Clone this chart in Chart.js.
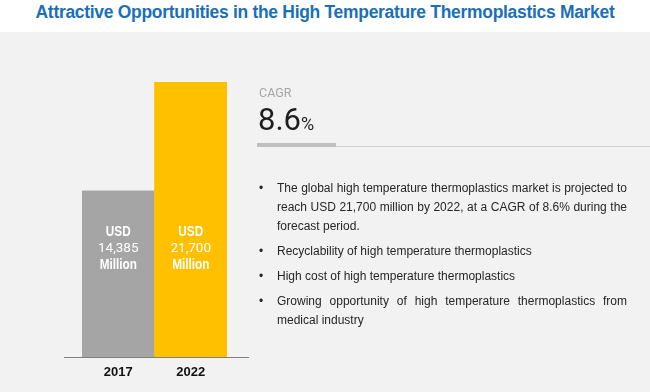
<!DOCTYPE html>
<html>
<head>
<meta charset="utf-8">
<script src="https://cdn.jsdelivr.net/npm/chart.js@4.4.0/dist/chart.umd.min.js"></script>
<style>
  html, body { margin: 0; padding: 0; background: #fff; }
  body { width: 650px; height: 392px; position: relative; overflow: hidden; }
  .title { position: absolute; left: 0; top: 0; width: 650px; text-align: center;
           font: bold 18px "Liberation Sans", Arial, sans-serif; line-height: 24px; color: #1a6fba;
           letter-spacing: -0.3px; transform: scaleX(0.97); transform-origin: 50% 50%; }
  .panel { position: absolute; left: 0; top: 32px; width: 650px; height: 360px; background: #f2f2f2; }
  #chartBox { position: absolute; left: 0; top: 32px; width: 260px; height: 360px; }
  .cagr-label { position: absolute; left: 259px; top: 87px; font: 12.5px Roboto, sans-serif;
                line-height: 1; color: #a6a6a6; }
  .cagr-value { position: absolute; left: 258px; top: 104px; font: 31px Roboto, sans-serif;
                line-height: 1; color: #1e1e1e; }
  .cagr-value span { font-size: 18px; }
  .rule-thick { position: absolute; left: 257px; top: 143px; width: 79px; height: 4px; background: #bfbfbf; }
  .rule-thin { position: absolute; left: 336px; top: 146px; width: 314px; height: 1px; background: #d0d0d0; }
  .points { position: absolute; left: 277px; top: 179px; width: 350px;
            font: 12px "Liberation Sans", Arial, sans-serif; line-height: 19px;
            text-align: justify; color: #262626; }
  .pt { position: relative; margin-bottom: 6px; }
  .pt::before { content: "\2022"; position: absolute; left: -18px; top: 0; }
</style>
</head>
<body>
<div class="title">Attractive Opportunities in the High Temperature Thermoplastics Market</div>
<div class="panel"></div>
<div id="chartBox"><canvas id="marketChart" width="260" height="360"></canvas></div>
<div class="cagr-label">CAGR</div>
<div class="cagr-value" id="cagrValue"></div>
<div class="rule-thick"></div>
<div class="rule-thin"></div>
<div class="points" id="points"></div>

<script>
  // Data
  const years = ['2017', '2022'];
  const marketSize = [14385, 21700];   // USD million
  const barColors = ['#a5a5a5', '#ffc000'];
  const cagr = 8.6;
  const highlights = [
    'The global high temperature thermoplastics market is projected to reach USD 21,700 million by 2022, at a CAGR of 8.6% during the forecast period.',
    'Recyclability of high temperature thermoplastics',
    'High cost of high temperature thermoplastics',
    'Growing opportunity of high temperature thermoplastics from medical industry'
  ];
  // bars in the picture are not drawn from zero
  const yMin = 3200;
  const yMax = 21700;


  // Right side text
  document.getElementById('cagrValue').innerHTML = cagr + '<span>%</span>';
  highlights.forEach(function (txt) {
    var d = document.createElement('div');
    d.className = 'pt';
    d.textContent = txt;
    document.getElementById('points').appendChild(d);
  });


  // condensed looking text on canvas
  function narrowText(ctx, txt, x, y, sx) {
    ctx.save();
    ctx.translate(x, y);
    ctx.scale(sx, 1);
    ctx.fillText(txt, 0, 0);
    ctx.restore();
  }

  // Value labels inside bars
  const barLabels = {
    id: 'barLabels',
    afterDatasetsDraw(chart) {
      const ctx = chart.ctx;
      const mid = chart.chartArea.bottom - 108;
      ctx.save();
      ctx.fillStyle = '#ffffff';
      ctx.textAlign = 'center';
      ctx.textBaseline = 'middle';
      chart.getDatasetMeta(0).data.forEach(function (bar, i) {
        ctx.font = 'bold 14px "Liberation Sans"';
        narrowText(ctx, 'USD', bar.x, mid - 17, 0.84);
        ctx.font = '13.5px Roboto';
        ctx.fillText(marketSize[i].toLocaleString('en-US'), bar.x, mid);
        ctx.font = 'bold 14px "Liberation Sans"';
        narrowText(ctx, 'Million', bar.x, mid + 16, 0.84);
      });
      ctx.restore();
    }
  };

  // Base line, a bit wider than the bars
  const baseLine = {
    id: 'baseLine',
    afterDatasetsDraw(chart) {
      const { ctx, chartArea } = chart;
      ctx.save();
      ctx.strokeStyle = '#7f7f7f';
      ctx.lineWidth = 1;
      ctx.beginPath();
      ctx.moveTo(chartArea.left - 18, Math.round(chartArea.bottom) + 0.5);
      ctx.lineTo(chartArea.right + 22, Math.round(chartArea.bottom) + 0.5);
      ctx.stroke();
      ctx.restore();
    }
  };


  new Chart(document.getElementById('marketChart'), {
    type: 'bar',
    data: {
      labels: years,
      datasets: [{
        data: marketSize,
        backgroundColor: barColors,
        borderWidth: 0,
        barPercentage: 1,
        categoryPercentage: 1
      }]
    },
    options: {
      responsive: false,
      animation: false,
      layout: { padding: { left: 82, right: 33, top: 50, bottom: 3.4 } },
      plugins: {
        legend: { display: false },
        tooltip: { enabled: false }
      },
      scales: {
        x: {
          grid: { display: false, drawTicks: false },
          border: { display: false },
          ticks: {
            color: '#111',
            padding: 8,
            font: { family: 'Liberation Sans', weight: 'bold', size: 13 }
          }
        },
        y: { display: false, min: yMin, max: yMax, beginAtZero: false }
      }
    },
    plugins: [barLabels, baseLine]
  });
</script>
</body>
</html>
